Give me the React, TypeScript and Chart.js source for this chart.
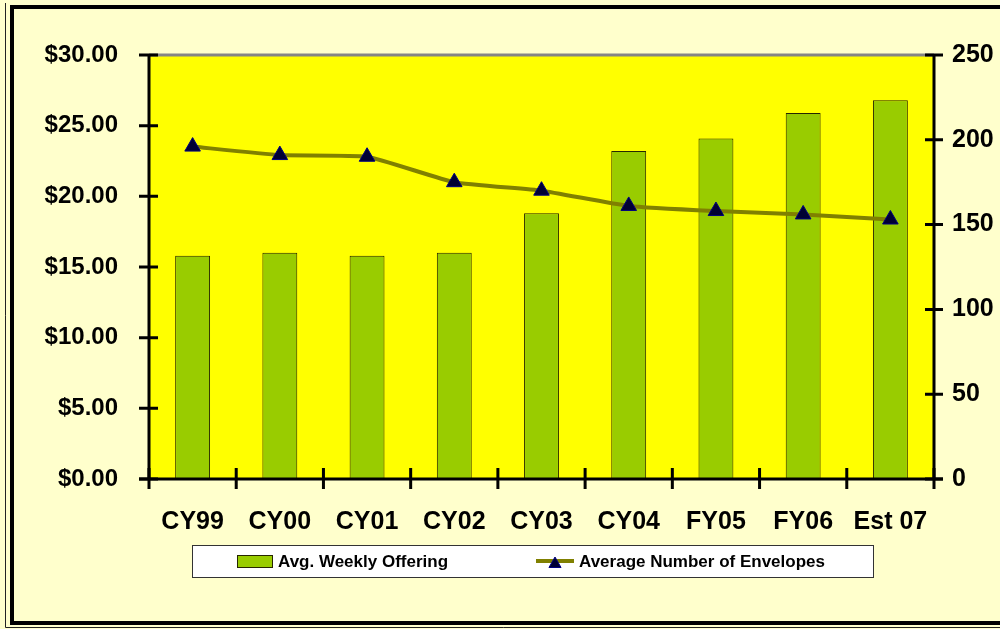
import React, { useEffect, useRef } from 'react';
import { Chart, registerables } from 'chart.js';

Chart.register(...registerables);

const categories = ['CY99', 'CY00', 'CY01', 'CY02', 'CY03', 'CY04', 'FY05', 'FY06', 'Est 07'];
const avgWeeklyOffering = [15.8, 16.0, 15.8, 16.0, 18.8, 23.2, 24.1, 25.9, 26.8];
const avgEnvelopes = [196, 191, 190, 175, 170, 161, 158, 156, 153];
const offeringLabel = 'Avg. Weekly Offering';
const envelopesLabel = 'Average Number of Envelopes';
const offeringMax = 30;
const offeringStep = 5;
const envelopesMax = 250;
const envelopesStep = 50;

const FONT = '"Liberation Sans", Arial, sans-serif';
const PAGE_BG = '#FFFFCC';
const PLOT_BG = '#FFFF00';
const BAR_COLOR = '#99CC00';
const BAR_BORDER = '#262600';
const LINE_COLOR = '#808000';
const MARKER_FILL = '#000033';
const MARKER_BORDER = '#000080';

const W = 1000;
const H = 629;
const PLOT_LEFT = 149;
const PLOT_RIGHT = 934;
const PLOT_TOP = 55;
const PLOT_BOTTOM = 479;

function tri(ctx: CanvasRenderingContext2D, x: number, y: number, r: number) {
  ctx.beginPath();
  for (let i = 0; i < 3; i++) {
    const a = (i * 2 * Math.PI) / 3;
    const px = x + Math.sin(a) * r;
    const py = y - Math.cos(a) * r;
    if (i === 0) ctx.moveTo(px, py);
    else ctx.lineTo(px, py);
  }
  ctx.closePath();
}

const framePlugin = {
  id: 'frame',
  beforeDraw(chart: any) {
    const { ctx, chartArea } = chart;
    ctx.save();
    ctx.fillStyle = PAGE_BG;
    ctx.fillRect(0, 0, W, H);
    ctx.strokeStyle = '#222';
    ctx.lineWidth = 1;
    ctx.beginPath();
    ctx.moveTo(5.5, 3);
    ctx.lineTo(5.5, 627.5);
    ctx.lineTo(W + 5, 627.5);
    ctx.stroke();
    ctx.strokeStyle = '#000';
    ctx.lineWidth = 4;
    ctx.beginPath();
    ctx.moveTo(W + 5, 7);
    ctx.lineTo(12, 7);
    ctx.lineTo(12, 623);
    ctx.lineTo(W + 5, 623);
    ctx.stroke();
    ctx.fillStyle = PLOT_BG;
    ctx.fillRect(chartArea.left, chartArea.top, chartArea.right - chartArea.left, chartArea.bottom - chartArea.top);
    ctx.restore();
  },
  afterDatasetsDraw(chart: any) {
    const { ctx, chartArea, scales } = chart;
    const { left, right, top, bottom } = chartArea;
    ctx.save();
    ctx.strokeStyle = '#858585';
    ctx.lineWidth = 3;
    ctx.beginPath();
    ctx.moveTo(left, top);
    ctx.lineTo(right, top);
    ctx.stroke();
    ctx.strokeStyle = '#000';
    ctx.lineWidth = 3;
    ctx.lineCap = 'butt';
    ctx.beginPath();
    ctx.moveTo(left, top);
    ctx.lineTo(left, bottom);
    ctx.moveTo(right, top);
    ctx.lineTo(right, bottom);
    ctx.moveTo(left - 10, bottom);
    ctx.lineTo(right + 9, bottom);
    ctx.stroke();
    ctx.beginPath();
    scales.y.ticks.forEach((t: any) => {
      const y = scales.y.getPixelForValue(t.value);
      ctx.moveTo(left - 10, y);
      ctx.lineTo(left + 9, y);
    });
    scales.y2.ticks.forEach((t: any) => {
      const y = scales.y2.getPixelForValue(t.value);
      ctx.moveTo(right - 9, y);
      ctx.lineTo(right + 9, y);
    });
    const xs = scales.x;
    const n = categories.length;
    for (let i = 0; i <= n; i++) {
      const x = i < n ? xs.getPixelForValue(i) - (xs.getPixelForValue(1) - xs.getPixelForValue(0)) / 2 : right;
      ctx.moveTo(x, bottom - 11);
      ctx.lineTo(x, bottom + 10);
    }
    ctx.stroke();
    ctx.restore();
  },
  afterDraw(chart: any) {
    const { ctx } = chart;
    ctx.save();
    ctx.fillStyle = '#FFFFFF';
    ctx.fillRect(192.5, 545.5, 681, 32);
    ctx.strokeStyle = '#333';
    ctx.lineWidth = 1;
    ctx.strokeRect(192.5, 545.5, 681, 32);
    ctx.fillStyle = BAR_COLOR;
    ctx.fillRect(237.5, 555.5, 35, 12);
    ctx.strokeStyle = BAR_BORDER;
    ctx.strokeRect(237.5, 555.5, 35, 12);
    ctx.fillStyle = '#000';
    ctx.font = `bold 17px ${FONT}`;
    ctx.textBaseline = 'middle';
    ctx.textAlign = 'left';
    ctx.fillText(chart.data.datasets[1].label, 278, 562);
    ctx.strokeStyle = LINE_COLOR;
    ctx.lineWidth = 4;
    ctx.beginPath();
    ctx.moveTo(536, 561);
    ctx.lineTo(574, 561);
    ctx.stroke();
    tri(ctx, 555, 564, 7);
    ctx.fillStyle = MARKER_FILL;
    ctx.fill();
    ctx.strokeStyle = MARKER_BORDER;
    ctx.lineWidth = 1;
    ctx.stroke();
    ctx.fillStyle = '#000';
    ctx.fillText(chart.data.datasets[0].label, 579, 562);
    ctx.restore();
  },
};

export default function App() {
  const ref = useRef<HTMLCanvasElement | null>(null);
  useEffect(() => {
    if (!ref.current) return;
    const chart = new Chart(ref.current, {
      type: 'bar',
      data: {
        labels: categories,
        datasets: [
          {
            type: 'line',
            label: envelopesLabel,
            data: avgEnvelopes,
            yAxisID: 'y2',
            borderColor: LINE_COLOR,
            borderWidth: 4,
            tension: 0.15,
            pointStyle: 'triangle',
            pointRadius: 9,
            pointBackgroundColor: MARKER_FILL,
            pointBorderColor: MARKER_BORDER,
            pointBorderWidth: 1,
            order: 0,
          } as any,
          {
            type: 'bar',
            label: offeringLabel,
            data: avgWeeklyOffering,
            yAxisID: 'y',
            backgroundColor: BAR_COLOR,
            borderColor: BAR_BORDER,
            borderWidth: 1,
            barPercentage: 0.4,
            categoryPercentage: 1,
            order: 1,
          },
        ],
      },
      options: {
        responsive: false,
        animation: false,
        devicePixelRatio: 1,
        layout: { padding: { top: PLOT_TOP, left: 0, right: 0, bottom: 0 } },
        plugins: { legend: { display: false }, tooltip: { enabled: false } },
        scales: {
          x: {
            offset: true,
            grid: { display: false, drawTicks: false },
            border: { display: false },
            ticks: {
              color: '#000',
              font: { family: FONT, size: 25, weight: 'bold' },
              padding: 28,
              autoSkip: false,
              maxRotation: 0,
            },
            afterFit(scale: any) {
              scale.height = H - PLOT_BOTTOM;
            },
          },
          y: {
            position: 'left',
            min: 0,
            max: offeringMax,
            grid: { display: false, drawTicks: false },
            border: { display: false },
            ticks: {
              stepSize: offeringStep,
              color: '#000',
              font: { family: FONT, size: 24, weight: 'bold' },
              padding: 31,
              callback: (v: any) => '$' + Number(v).toFixed(2),
            },
            afterFit(scale: any) {
              scale.width = PLOT_LEFT;
            },
          },
          y2: {
            position: 'right',
            min: 0,
            max: envelopesMax,
            grid: { display: false, drawTicks: false },
            border: { display: false },
            ticks: {
              stepSize: envelopesStep,
              color: '#000',
              font: { family: FONT, size: 25, weight: 'bold' },
              padding: 18,
            },
            afterFit(scale: any) {
              scale.width = W - PLOT_RIGHT;
            },
          },
        },
      } as any,
      plugins: [framePlugin],
    });
    return () => chart.destroy();
  }, []);
  return (
    <div style={{ position: 'fixed', left: 0, top: 0, width: W, height: H }}>
      <canvas ref={ref} width={W} height={H} style={{ display: 'block', width: W, height: H }} />
    </div>
  );
}
